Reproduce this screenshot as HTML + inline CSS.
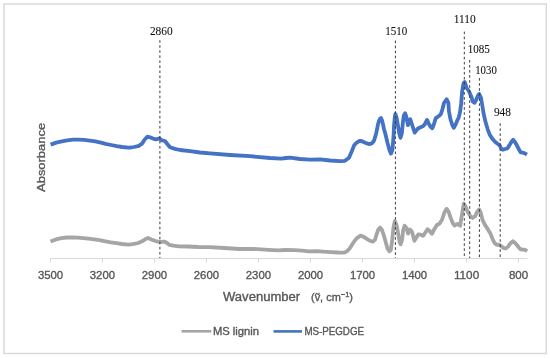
<!DOCTYPE html>
<html><head><meta charset="utf-8"><style>
html,body{margin:0;padding:0;background:#fff;}
body{width:550px;height:358px;overflow:hidden;}
svg{display:block;font-family:"Liberation Sans",sans-serif;will-change:transform;}
</style></head><body>
<svg width="550" height="358" viewBox="0 0 550 358">
<rect x="4" y="4" width="542.3" height="349.5" fill="#fff" stroke="#d9d9d9" stroke-width="1.5"/>
<line x1="50.5" y1="258.5" x2="527.5" y2="258.5" stroke="#d9d9d9" stroke-width="1"/>
<line x1="50.5" y1="258.5" x2="50.5" y2="262.5" stroke="#d9d9d9" stroke-width="1"/>
<line x1="102.5" y1="258.5" x2="102.5" y2="262.5" stroke="#d9d9d9" stroke-width="1"/>
<line x1="154.5" y1="258.5" x2="154.5" y2="262.5" stroke="#d9d9d9" stroke-width="1"/>
<line x1="206.5" y1="258.5" x2="206.5" y2="262.5" stroke="#d9d9d9" stroke-width="1"/>
<line x1="258.5" y1="258.5" x2="258.5" y2="262.5" stroke="#d9d9d9" stroke-width="1"/>
<line x1="310.5" y1="258.5" x2="310.5" y2="262.5" stroke="#d9d9d9" stroke-width="1"/>
<line x1="362.5" y1="258.5" x2="362.5" y2="262.5" stroke="#d9d9d9" stroke-width="1"/>
<line x1="414.5" y1="258.5" x2="414.5" y2="262.5" stroke="#d9d9d9" stroke-width="1"/>
<line x1="466.5" y1="258.5" x2="466.5" y2="262.5" stroke="#d9d9d9" stroke-width="1"/>
<line x1="518.5" y1="258.5" x2="518.5" y2="262.5" stroke="#d9d9d9" stroke-width="1"/>
<text x="37.9" y="278.5" textLength="25.3" lengthAdjust="spacingAndGlyphs" font-size="11.8" fill="#575757" stroke="#575757" stroke-width="0.35">3500</text>
<text x="89.8" y="278.5" textLength="25.3" lengthAdjust="spacingAndGlyphs" font-size="11.8" fill="#575757" stroke="#575757" stroke-width="0.35">3200</text>
<text x="141.8" y="278.5" textLength="25.3" lengthAdjust="spacingAndGlyphs" font-size="11.8" fill="#575757" stroke="#575757" stroke-width="0.35">2900</text>
<text x="193.8" y="278.5" textLength="25.3" lengthAdjust="spacingAndGlyphs" font-size="11.8" fill="#575757" stroke="#575757" stroke-width="0.35">2600</text>
<text x="245.8" y="278.5" textLength="25.3" lengthAdjust="spacingAndGlyphs" font-size="11.8" fill="#575757" stroke="#575757" stroke-width="0.35">2300</text>
<text x="297.9" y="278.5" textLength="25.3" lengthAdjust="spacingAndGlyphs" font-size="11.8" fill="#575757" stroke="#575757" stroke-width="0.35">2000</text>
<text x="349.9" y="278.5" textLength="25.3" lengthAdjust="spacingAndGlyphs" font-size="11.8" fill="#575757" stroke="#575757" stroke-width="0.35">1700</text>
<text x="401.9" y="278.5" textLength="25.3" lengthAdjust="spacingAndGlyphs" font-size="11.8" fill="#575757" stroke="#575757" stroke-width="0.35">1400</text>
<text x="453.9" y="278.5" textLength="25.3" lengthAdjust="spacingAndGlyphs" font-size="11.8" fill="#575757" stroke="#575757" stroke-width="0.35">1100</text>
<text x="508.9" y="278.5" textLength="19.2" lengthAdjust="spacingAndGlyphs" font-size="11.8" fill="#575757" stroke="#575757" stroke-width="0.35">800</text>
<polyline points="50.5,241.6 55.9,239.4 61.4,238.1 66.8,237.5 72.3,237.3 77.7,237.6 83.2,238.1 88.6,238.7 94.1,239.4 99.5,240.2 105.5,241.4 110.9,242.4 116.4,243.2 121.8,244.0 128.4,244.6 132.7,244.1 138.2,243.0 142.5,241.1 145.8,238.9 148.0,238.0 151.3,239.4 155.6,241.1 159.4,241.8 164.8,241.7 167.0,243.0 169.2,244.8 173.5,245.7 179.0,246.4 187.7,246.5 198.6,247.0 209.5,247.1 224.5,248.0 239.1,249.0 253.6,248.9 268.2,249.9 278.4,250.4 285.6,250.0 294.5,250.2 301.8,250.6 309.1,251.4 316.4,251.1 323.6,251.7 330.9,252.1 338.2,252.5 342.5,252.6 345.0,252.3 347.0,251.2 349.8,248.2 352.5,244.0 355.0,240.2 357.5,237.6 360.7,235.6 363.8,236.9 367.6,239.4 370.7,241.2 373.2,241.5 375.1,239.5 376.4,235.0 378.3,229.6 380.2,227.6 382.0,230.0 383.9,235.6 385.8,242.5 387.5,248.5 389.3,251.3 390.8,250.0 392.2,240.0 393.4,228.0 394.9,221.0 396.8,225.7 398.3,234.5 399.7,242.3 400.7,244.3 402.2,239.4 403.1,230.6 404.6,225.7 406.6,228.2 408.0,233.6 410.0,229.6 411.9,231.6 413.0,235.5 414.4,240.8 418.2,234.5 420.7,234.6 423.2,235.8 427.5,229.2 430.0,231.5 431.9,233.8 434.4,229.0 436.9,225.0 439.4,223.8 441.9,220.0 444.4,212.6 446.7,208.8 448.8,212.3 450.7,217.9 452.6,222.9 454.4,225.5 457.5,223.9 460.1,225.8 461.9,215.1 463.8,203.6 465.7,206.8 467.6,211.8 470.0,215.6 472.5,218.0 475.0,216.3 477.5,211.3 479.1,209.4 480.7,212.6 482.6,220.1 485.1,225.1 487.6,228.9 490.1,232.9 492.4,238.5 494.5,243.0 496.7,244.8 498.9,244.6 501.2,246.3 503.4,247.9 505.6,248.5 507.9,246.8 510.7,242.9 512.9,241.2 515.1,242.9 517.9,246.3 520.2,249.1 522.4,249.6 524.6,249.6 527.2,251.2" fill="none" stroke="#a5a5a5" stroke-width="3.8" stroke-linejoin="round" stroke-linecap="butt"/>
<polyline points="50.6,144.6 56.2,142.6 61.8,141.3 67.3,140.3 72.9,139.7 78.5,139.7 84.1,139.9 89.7,140.6 95.3,141.4 100.9,142.6 105.6,143.8 111.2,145.0 116.8,146.1 122.3,147.0 128.5,147.6 131.0,147.5 134.0,147.0 139.0,145.8 142.0,143.6 144.7,139.5 147.5,136.7 150.0,137.3 153.0,138.6 155.9,139.3 159.5,138.4 162.0,140.4 165.0,141.0 167.3,144.0 170.0,147.2 175.0,148.9 180.0,150.0 190.0,151.1 200.0,152.5 210.0,153.4 230.0,155.0 250.0,156.2 270.0,158.0 281.0,158.7 286.0,158.0 290.0,157.7 300.0,159.0 310.0,159.7 320.0,159.3 330.0,160.5 340.0,161.2 345.0,160.8 349.0,157.8 352.0,150.7 354.0,145.6 356.0,143.3 358.0,141.8 360.0,140.8 362.0,141.2 364.0,142.2 366.0,143.1 368.0,143.8 370.0,144.0 372.0,143.2 374.0,140.8 376.0,134.0 377.0,129.5 378.0,124.4 379.0,120.6 380.0,118.8 381.0,118.1 382.0,120.2 383.0,124.4 384.0,129.0 385.4,134.0 387.5,142.7 389.6,150.5 391.0,153.6 392.4,149.8 393.5,137.0 394.0,126.0 394.9,116.2 395.4,114.0 396.6,117.6 398.0,125.9 399.3,133.6 400.5,137.8 401.9,132.9 402.8,123.1 403.8,115.5 405.2,113.3 406.4,117.0 407.9,125.2 410.3,119.3 412.0,124.5 414.7,132.6 417.6,128.8 420.6,127.2 422.8,126.3 424.9,124.2 427.0,119.9 428.6,123.4 430.5,126.8 432.3,128.2 434.0,124.0 435.6,118.5 437.4,117.0 439.5,115.5 440.9,114.0 442.5,109.0 444.0,103.0 446.6,99.2 448.4,102.9 448.9,111.0 450.4,119.0 452.3,125.0 453.8,127.8 455.7,124.4 457.2,120.5 458.7,117.6 460.1,111.7 461.1,103.9 462.2,91.0 463.6,83.2 464.7,81.9 466.6,88.0 468.8,91.0 471.5,97.0 472.6,101.4 474.5,102.8 476.1,100.0 478.2,95.1 479.2,94.0 481.0,97.9 482.4,106.0 483.5,113.0 485.6,122.3 487.7,129.3 489.8,134.9 492.6,139.1 495.0,141.8 497.2,143.5 499.5,145.1 501.2,148.5 502.8,149.8 505.1,149.0 507.3,148.5 509.5,145.1 511.8,141.2 513.1,139.8 515.1,142.3 517.4,146.3 519.0,149.6 520.7,152.4 523.0,152.7 525.2,153.5 526.9,154.6" fill="none" stroke="#4472c4" stroke-width="3.8" stroke-linejoin="round" stroke-linecap="butt"/>
<line x1="159.9" y1="40.2" x2="159.9" y2="258" stroke="#3a3a3a" stroke-width="1" stroke-dasharray="2.6 2.44"/>
<line x1="395.4" y1="40.6" x2="395.4" y2="258" stroke="#3a3a3a" stroke-width="1" stroke-dasharray="2.6 2.44"/>
<line x1="464.3" y1="31.6" x2="464.3" y2="258" stroke="#3a3a3a" stroke-width="1" stroke-dasharray="2.6 2.44"/>
<line x1="469.7" y1="60.0" x2="469.7" y2="258" stroke="#3a3a3a" stroke-width="1" stroke-dasharray="2.6 2.44"/>
<line x1="479.4" y1="78.1" x2="479.4" y2="258" stroke="#3a3a3a" stroke-width="1" stroke-dasharray="2.6 2.44"/>
<line x1="500.2" y1="123.3" x2="500.2" y2="258" stroke="#3a3a3a" stroke-width="1" stroke-dasharray="2.6 2.44"/>
<text x="149.9" y="34.9" textLength="22.8" lengthAdjust="spacingAndGlyphs" font-family="Liberation Serif, serif" font-size="12.2" fill="#111" stroke="#111" stroke-width="0.08">2860</text>
<text x="385.3" y="35.1" textLength="22.0" lengthAdjust="spacingAndGlyphs" font-family="Liberation Serif, serif" font-size="12.2" fill="#111" stroke="#111" stroke-width="0.08">1510</text>
<text x="453.7" y="22.7" textLength="22.0" lengthAdjust="spacingAndGlyphs" font-family="Liberation Serif, serif" font-size="12.2" fill="#111" stroke="#111" stroke-width="0.08">1110</text>
<text x="467.8" y="53.0" textLength="22.1" lengthAdjust="spacingAndGlyphs" font-family="Liberation Serif, serif" font-size="12.2" fill="#111" stroke="#111" stroke-width="0.08">1085</text>
<text x="475.2" y="74.2" textLength="21.6" lengthAdjust="spacingAndGlyphs" font-family="Liberation Serif, serif" font-size="12.2" fill="#111" stroke="#111" stroke-width="0.08">1030</text>
<text x="493.9" y="116.1" textLength="17.0" lengthAdjust="spacingAndGlyphs" font-family="Liberation Serif, serif" font-size="12.2" fill="#111" stroke="#111" stroke-width="0.08">948</text>
<text x="223" y="300.5" textLength="77.2" lengthAdjust="spacingAndGlyphs" font-size="12.3" fill="#575757" stroke="#575757" stroke-width="0.35">Wavenumber</text>
<text x="311" y="300.5" textLength="42" lengthAdjust="spacingAndGlyphs" font-size="11" fill="#575757" stroke="#575757" stroke-width="0.35">(ṽ, cm<tspan dy="-4" font-size="7.5">−1</tspan><tspan dy="4">)</tspan></text>
<text transform="translate(44.6,191.9) rotate(-90)" x="0" y="0" textLength="69" lengthAdjust="spacingAndGlyphs" font-size="11.8" fill="#575757" stroke="#575757" stroke-width="0.35">Absorbance</text>
<line x1="181.6" y1="331.3" x2="211.3" y2="331.3" stroke="#a5a5a5" stroke-width="2.6"/>
<text x="212.9" y="334.7" textLength="46.1" lengthAdjust="spacingAndGlyphs" font-size="10.3" fill="#575757" stroke="#575757" stroke-width="0.35">MS lignin</text>
<line x1="273.5" y1="331.4" x2="302" y2="331.4" stroke="#4472c4" stroke-width="2.6"/>
<text x="304.4" y="334.6" textLength="59.6" lengthAdjust="spacingAndGlyphs" font-size="10.3" fill="#575757" stroke="#575757" stroke-width="0.35">MS-PEGDGE</text>
</svg>
</body></html>
